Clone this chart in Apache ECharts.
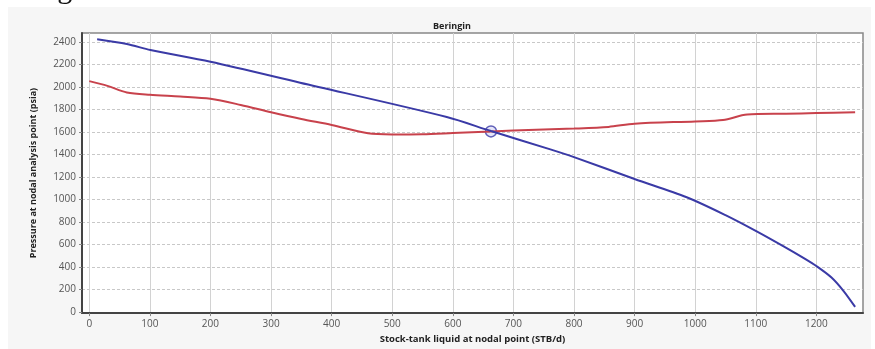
<!DOCTYPE html>
<html>
<head>
<meta charset="utf-8">
<script src="https://cdn.jsdelivr.net/npm/echarts@6/dist/echarts.min.js"></script>
<style>
html,body{margin:0;padding:0;background:#fff;}
#bg{position:absolute;left:8px;top:7px;width:863px;height:342px;background:#f6f6f6;}
#c{position:absolute;left:0;top:0;width:875px;height:349px;}
</style>
</head>
<body>
<div id="bg"></div>
<div id="c"></div>
<script>
// Data
const ipr_x = [13, 62, 101, 200, 348, 590, 663, 761, 800, 900, 986, 1050, 1100, 1146, 1180, 1202, 1225, 1245, 1264];
const ipr_y = [2425, 2382, 2329, 2224, 2038, 1733, 1608, 1445, 1376, 1182, 1019, 860, 720, 582, 475, 400, 305, 185, 44];
const vlp_x = [0, 30, 62, 100, 150, 200, 250, 300, 350, 400, 460, 500, 550, 600, 663, 700, 800, 857, 900, 1000, 1046, 1086, 1150, 1200, 1264];
const vlp_y = [2052, 2010, 1951, 1930, 1915, 1895, 1840, 1775, 1715, 1662, 1588, 1578, 1580, 1590, 1603, 1612, 1630, 1645, 1674, 1694, 1706, 1755, 1762, 1768, 1776];
const op_x = [663];
const op_y = [1605];
const xTicks = [0, 100, 200, 300, 400, 500, 600, 700, 800, 900, 1000, 1100, 1200];
const yTicks = [0, 200, 400, 600, 800, 1000, 1200, 1400, 1600, 1800, 2000, 2200, 2400];
const titleText = 'Beringin';
const xName = 'Stock-tank liquid at nodal point (STB/d)';
const yName = 'Pressure at nodal analysis point (psia)';
const topText = 'Sebagai berikut:';

const zip = (a, b) => a.map((v, i) => [v, b[i]]);
const chart = echarts.init(document.getElementById('c'), null, {renderer: 'canvas'});
const lblFont = {fontFamily: 'Open Sans', fontSize: 10, color: '#555', formatter: v => String(v)};
chart.setOption({
  animation: false,
  backgroundColor: 'transparent',
  title: {
    text: titleText, left: 447, top: 17, textAlign: 'center',
    textStyle: {fontFamily: 'Open Sans', fontSize: 9, fontWeight: 'bold', color: '#222'}
  },
  graphic: [{
    type: 'text', left: -1, top: -25,
    style: {text: topText, font: '30px "Liberation Serif"', fill: '#111'}
  }],
  grid: {left: 82, right: 12, top: 33, bottom: 31, show: true, backgroundColor: '#fff', borderColor: '#888', borderWidth: 1.5},
  xAxis: {
    type: 'value', min: -12, max: 1277,
    name: xName, nameLocation: 'middle', nameGap: 19,
    nameTextStyle: {fontFamily: 'Open Sans', fontSize: 9.5, fontWeight: 'bold', color: '#222'},
    axisLine: {show: true, onZero: false, lineStyle: {color: '#444', width: 2}},
    axisTick: {show: true, length: 3, customValues: xTicks, lineStyle: {color: '#888'}},
    axisLabel: Object.assign({customValues: xTicks, margin: 6}, lblFont),
    splitLine: {show: true, lineStyle: {color: '#d2d2d2', width: 1, type: 'solid'}}
  },
  yAxis: {
    type: 'value', min: -11, max: 2480,
    name: yName, nameLocation: 'middle', nameGap: 44,
    nameTextStyle: {fontFamily: 'Open Sans', fontSize: 9, fontWeight: 'bold', color: '#222'},
    axisLine: {show: true, onZero: false, lineStyle: {color: '#444', width: 2}},
    axisTick: {show: true, length: 3, customValues: yTicks, lineStyle: {color: '#888'}},
    axisLabel: Object.assign({customValues: yTicks, margin: 6}, lblFont),
    splitLine: {show: true, lineStyle: {color: '#c8c8c8', width: 1, type: [3, 2]}}
  },
  series: [
    {type: 'line', data: zip(vlp_x, vlp_y), showSymbol: false, smooth: 0.3,
     lineStyle: {color: '#c8424c', width: 2}},
    {type: 'line', data: zip(ipr_x, ipr_y), showSymbol: false, smooth: 0.3,
     lineStyle: {color: '#3a3aa6', width: 2}},
    {type: 'scatter', data: zip(op_x, op_y), symbol: 'circle', symbolSize: 11,
     itemStyle: {color: 'rgba(160,160,230,0.35)', borderColor: '#3a3aa6', borderWidth: 1.5}}
  ]
});
</script>
</body>
</html>
